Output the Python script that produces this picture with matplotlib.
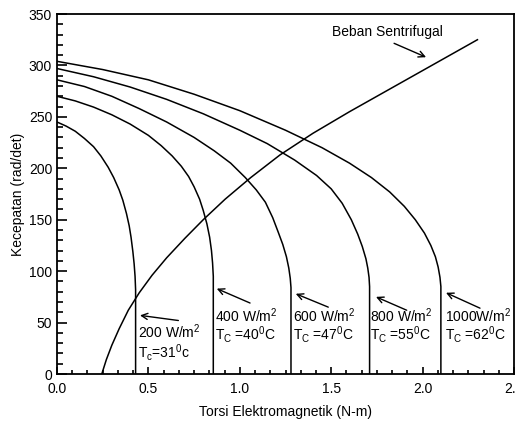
import matplotlib
matplotlib.use("Agg")
import matplotlib.pyplot as plt
from matplotlib.ticker import MultipleLocator

plt.rcParams['font.family'] = ['Liberation Sans', 'DejaVu Sans']
plt.rcParams['mathtext.fontset'] = 'custom'
plt.rcParams['mathtext.rm'] = 'Liberation Sans'
plt.rcParams['mathtext.it'] = 'Liberation Sans'

# kurva torsi-kecepatan motor untuk tiap radiasi
t200 = [0, 0.05, 0.10, 0.15, 0.20, 0.24, 0.28, 0.31, 0.34, 0.36, 0.38, 0.395, 0.405, 0.415, 0.422, 0.427, 0.43, 0.43]
w200 = [245, 241, 236, 229, 221, 212, 201, 191, 179, 169, 156, 144, 133, 119, 107, 95, 82, 0]

t400 = [0, 0.1, 0.2, 0.3, 0.4, 0.5, 0.57, 0.63, 0.68, 0.72, 0.75, 0.78, 0.80, 0.82, 0.835, 0.845, 0.851, 0.855, 0.855]
w400 = [270, 265.5, 259.5, 252, 243, 232, 222, 212, 202, 192, 182, 170, 159, 146, 133, 120, 108, 95, 0]

t600 = [0, 0.15, 0.3, 0.45, 0.6, 0.75, 0.86, 0.95, 1.03, 1.09, 1.14, 1.18, 1.21, 1.235, 1.255, 1.268, 1.276, 1.28, 1.28]
w600 = [286, 279.5, 270, 258, 245, 230, 217, 205, 191, 179, 167, 152, 138, 126, 114, 103, 93, 84, 0]

t800 = [0, 0.2, 0.4, 0.6, 0.8, 1.0, 1.15, 1.3, 1.42, 1.5, 1.56, 1.61, 1.645, 1.67, 1.69, 1.70, 1.707, 1.71, 1.71]
w800 = [297, 289, 279, 267, 253, 237, 224, 208, 193, 180, 166, 150, 136, 124, 112, 103, 94, 85, 0]

t1000 = [0, 0.25, 0.5, 0.75, 1.0, 1.25, 1.45, 1.6, 1.72, 1.82, 1.9, 1.96, 2.01, 2.045, 2.07, 2.085, 2.095, 2.1, 2.1]
w1000 = [304, 296, 286, 272, 256, 237, 220, 205, 191, 177, 163, 150, 137, 125, 114, 104, 94, 85, 0]

# beban sentrifugal
t_beban = [0.245, 0.27, 0.30, 0.34, 0.39, 0.45, 0.52, 0.60, 0.70, 0.80, 0.92, 1.06, 1.22, 1.40, 1.60, 1.80, 2.0, 2.15, 2.30]
w_beban = [0, 14, 28, 44, 62, 79, 96, 113, 132, 150, 170, 191, 213, 234, 255, 275, 295, 310, 325]

labels_rad = ["200 W/m$^2$", "400 W/m$^2$", "600 W/m$^2$", "800 W/m$^2$", "1000W/m$^2$"]
labels_tc = ["T$_\\mathrm{c}$=31$^0$c", "T$_\\mathrm{C}$ =40$^0$C", "T$_\\mathrm{C}$ =47$^0$C",
             "T$_\\mathrm{C}$ =55$^0$C", "T$_\\mathrm{C}$ =62$^0$C"]
label_x = [0.445, 0.864, 1.289, 1.712, 2.122]
label_y1 = [41, 57, 57, 57, 57]
label_y2 = [21, 38, 38, 38, 38]
arrow_tail = [(0.664, 52), (1.056, 69), (1.484, 65), (1.913, 62), (2.314, 64)]
arrow_head = [(0.454, 57), (0.874, 83), (1.306, 78), (1.745, 75), (2.128, 79)]

fig = plt.figure(figsize=(5.16, 4.24), dpi=100)
ax = fig.add_axes([57/516, 50/424, 457/516, 360/424])

for t, w in [(t200, w200), (t400, w400), (t600, w600), (t800, w800), (t1000, w1000)]:
    ax.plot(t, w, color='black', lw=1.1)
ax.plot(t_beban, w_beban, color='black', lw=1.1)

for i in range(5):
    ax.text(label_x[i], label_y1[i], labels_rad[i], fontsize=10, ha='left', va='center')
    ax.text(label_x[i], label_y2[i], labels_tc[i], fontsize=10, ha='left', va='center')
    ax.annotate('', xy=arrow_head[i], xytext=arrow_tail[i],
                arrowprops=dict(arrowstyle='->', lw=1.0, color='black', mutation_scale=11,
                                shrinkA=0, shrinkB=0))

ax.text(1.503, 332.5, "Beban Sentrifugal", fontsize=10, ha='left', va='center')
ax.annotate('', xy=(2.019, 308), xytext=(1.844, 321.5),
            arrowprops=dict(arrowstyle='->', lw=1.0, color='black', mutation_scale=11,
                            shrinkA=0, shrinkB=0))

ax.set_xlim(0, 2.5)
ax.set_ylim(0, 350)
ax.xaxis.set_major_locator(MultipleLocator(0.5))
ax.xaxis.set_minor_locator(MultipleLocator(0.5 / 6))
ax.yaxis.set_major_locator(MultipleLocator(50))
ax.yaxis.set_minor_locator(MultipleLocator(10))
ax.xaxis.set_major_formatter(plt.FormatStrFormatter('%.1f'))
ax.tick_params(which='both', direction='in', top=False, right=False, labelsize=10, width=1.2)
ax.tick_params(axis='y', which='major', length=7)
ax.tick_params(axis='y', which='minor', length=4)
ax.tick_params(axis='x', which='major', length=5, pad=6)
ax.tick_params(axis='x', which='minor', length=3)
for s in ax.spines.values():
    s.set_linewidth(1.3)

ax.set_xlabel("Torsi Elektromagnetik (N-m)", fontsize=10, labelpad=6)
ax.set_ylabel("Kecepatan (rad/det)", fontsize=10, labelpad=3)

fig.savefig("out.png", dpi=100)
